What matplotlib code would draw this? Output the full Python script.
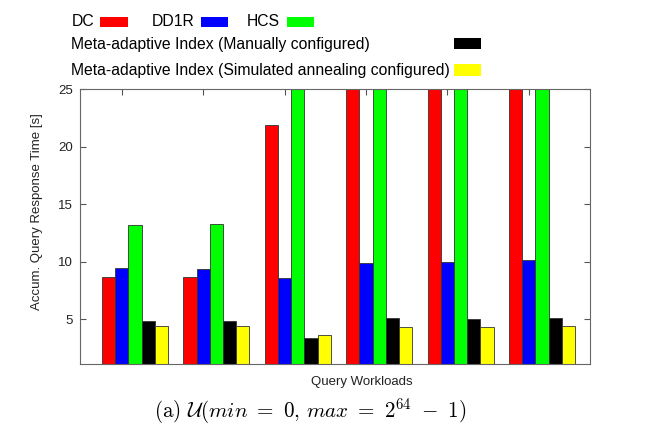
import numpy as np
import matplotlib
matplotlib.use("Agg")
import matplotlib.pyplot as plt
from matplotlib.patches import Rectangle

plt.rcParams['font.family'] = ['Liberation Sans', 'DejaVu Sans']
plt.rcParams['mathtext.fontset'] = 'cm'

# Data (values above 25 are clipped by the y range in the original)
workloads = ["W1", "W2", "W3", "W4", "W5", "W6"]
dc = [8.64, 8.64, 21.9, 40, 40, 40]
dd1r = [9.48, 9.39, 8.58, 9.86, 9.97, 10.12]
hcs = [13.2, 13.26, 40, 40, 40, 40]
meta_manual = [4.8, 4.8, 3.4, 5.06, 5.0, 5.06]
meta_sa = [4.39, 4.39, 3.6, 4.33, 4.33, 4.39]

series = [dc, dd1r, hcs, meta_manual, meta_sa]
colors = ["#ff0000", "#0000ff", "#00ff00", "#000000", "#ffff00"]
labels = ["DC", "DD1R", "HCS",
          "Meta-adaptive Index (Manually configured)",
          "Meta-adaptive Index (Simulated annealing configured)"]

W, H = 645, 444
fig = plt.figure(figsize=(W / 100, H / 100), dpi=100)
ax = fig.add_axes([80 / W, 1 - 364 / H, 510 / W, 275 / H])

x = np.arange(len(workloads))
w = 0.162
for j, (vals, c) in enumerate(zip(series, colors)):
    ax.bar(x + (j - 2) * w, vals, width=w, color=c, edgecolor="#333333",
           linewidth=0.6, bottom=0)

ax.set_ylim(1.1, 25)
ax.set_xlim(-0.676, 5.59)
ax.set_yticks([5, 10, 15, 20, 25])
ax.set_xticks(x - w)
ax.set_xticklabels([])
ax.tick_params(direction="in", top=True, right=True, length=4, pad=5,
               color="#555555", labelsize=9.5, labelcolor="#222222")
ax.tick_params(axis="x", bottom=False)
for s in ax.spines.values():
    s.set_color("#666666")
    s.set_linewidth(0.8)

fig.text(37 / W, 1 - 212 / H, "Accum. Query Response Time [s]", fontsize=9.5,
         rotation=90, ha="center", va="center", color="#222222")
fig.text(362 / W, 1 - 382 / H, "Query Workloads", fontsize=9.5,
         ha="center", va="center", color="#222222")

# legend drawn in figure pixels
def swatch(x0, y0, x1, y1, c):
    fig.patches.append(Rectangle((x0 / W, 1 - y1 / H), (x1 - x0) / W, (y1 - y0) / H,
                                 transform=fig.transFigure, facecolor=c,
                                 edgecolor="none"))

legend_fs = 11.3
fig.text(72 / W, 1 - 22 / H, labels[0], fontsize=legend_fs, va="center")
swatch(100, 17, 128, 27, colors[0])
fig.text(152 / W, 1 - 22 / H, labels[1], fontsize=legend_fs, va="center")
swatch(201, 17, 228, 27, colors[1])
fig.text(247 / W, 1 - 22 / H, labels[2], fontsize=legend_fs, va="center")
swatch(287, 17, 314, 27, colors[2])
fig.text(71 / W, 1 - 45 / H, labels[3], fontsize=legend_fs, va="center")
swatch(454, 38, 481, 49, colors[3])
fig.text(71 / W, 1 - 70 / H, labels[4], fontsize=legend_fs, va="center")
swatch(454, 64, 481, 76, colors[4])

fig.text(310 / W, 1 - 411 / H,
         r"$\mathrm{(a)}\ \mathcal{U}(min\ =\ 0,\,max\ =\ 2^{64}\ -\ 1)$",
         fontsize=15.2, ha="center", va="center")

fig.savefig("out.png", dpi=100)
